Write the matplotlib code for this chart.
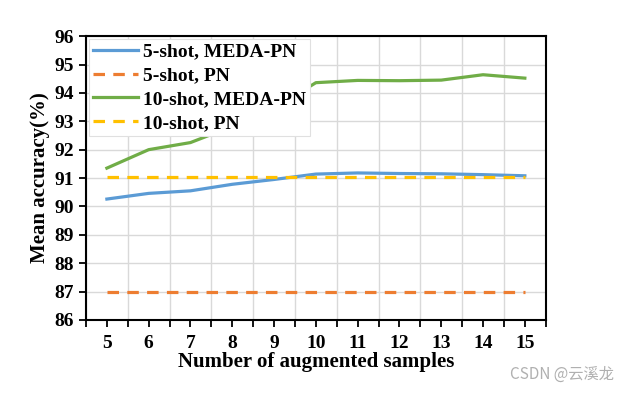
import matplotlib.pyplot as plt
from matplotlib.ticker import MultipleLocator

samples = [5, 6, 7, 8, 9, 10, 11, 12, 13, 14, 15]
meda_5shot = [90.26, 90.46, 90.55, 90.78, 90.95, 91.14, 91.18, 91.16, 91.15, 91.12, 91.08]
pn_5shot = [86.97] * 11
meda_10shot = [91.35, 92.0, 92.25, 92.82, 93.45, 94.36, 94.44, 94.43, 94.45, 94.64, 94.52]
pn_10shot = [91.02] * 11
xtick_labels = [str(s) for s in samples]

plt.rcParams['font.family'] = ['Liberation Serif', 'Noto Sans CJK SC']
plt.rcParams['font.weight'] = 'bold'

fig = plt.figure(figsize=(6.23, 3.97), dpi=100)
ax = fig.add_axes([0.138, 0.194, 0.738, 0.715])

ax.plot(samples, meda_5shot, color='#5B9BD5', lw=2.3, label='5-shot, MEDA-PN')
ax.plot(samples, pn_5shot, color='#ED7D31', lw=2.3, ls=(0, (3.6, 2.6)), label='5-shot, PN')
ax.plot(samples, meda_10shot, color='#70AD47', lw=2.3, label='10-shot, MEDA-PN')
ax.plot(samples, pn_10shot, color='#FFC000', lw=2.3, ls=(0, (3.6, 2.6)), label='10-shot, PN')

ax.set_xlim(4.5, 15.5)
ax.set_ylim(86, 96)
ax.set_xticks(samples)
ax.set_xticklabels(xtick_labels)
ax.xaxis.set_minor_locator(MultipleLocator(1, offset=0.5))
ax.yaxis.set_major_locator(MultipleLocator(1))
ax.grid(True, which='minor', axis='x', color='#d9d9d9', lw=1)
ax.grid(True, which='major', axis='y', color='#d9d9d9', lw=1)
ax.set_axisbelow(True)

ax.tick_params(axis='both', which='both', direction='out', length=5, width=1.3, labelsize=14)
ax.tick_params(axis='x', which='major', pad=6)
for sp in ax.spines.values():
    sp.set_linewidth(1.5)

ax.set_xlabel('Number of augmented samples', fontsize=15, fontweight='bold', labelpad=0)
ax.set_ylabel('Mean accuracy(%)', fontsize=15, fontweight='bold', labelpad=3)

leg = ax.legend(loc='upper left', fontsize=14, frameon=True, fancybox=False,
                framealpha=1, edgecolor='#e0e0e0', borderaxespad=0.15,
                handlelength=2.3, labelspacing=0.32, borderpad=0.2, handletextpad=0.3)
leg.get_frame().set_linewidth(0.8)

fig.text(0.985, 0.035, 'CSDN @云溪龙', ha='right', va='bottom', fontsize=11,
         color='#b0b0b0', fontweight='normal', family=['Noto Sans CJK SC', 'DejaVu Sans'])

fig.savefig('out.png', dpi=100)
